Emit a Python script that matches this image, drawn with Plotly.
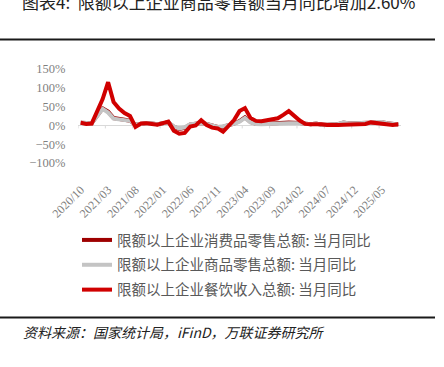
import plotly.graph_objects as go

months = ["2020/10","2020/11","2020/12",
          "2021/01","2021/02","2021/03","2021/04","2021/05","2021/06","2021/07","2021/08","2021/09","2021/10","2021/11","2021/12",
          "2022/01","2022/02","2022/03","2022/04","2022/05","2022/06","2022/07","2022/08","2022/09","2022/10","2022/11","2022/12",
          "2023/01","2023/02","2023/03","2023/04","2023/05","2023/06","2023/07","2023/08","2023/09","2023/10","2023/11","2023/12",
          "2024/01","2024/02","2024/03","2024/04","2024/05","2024/06","2024/07","2024/08","2024/09","2024/10","2024/11","2024/12",
          "2025/01","2025/02","2025/03","2025/04","2025/05","2025/06","2025/07","2025/08"]

consumer_total = [7, 6, 6,
                  None, 45.5, 37, 19.5, 16, 15, 12.5, 2, 4, 6, 5, 3,
                  None, 8, -4, -9.5, -6.5, 2.5, 4, 6.5, 4, 0.5, -4, -3.5,
                  None, 4.5, 11.5, 21.5, 9, 4.5, 3.5, 4.5, 5.5, 7, 8, 7.5,
                  None, 6.5, 4, 3, 5, 2, 2, 3, 3.5, 7.5, 5, 5.5,
                  None, 6, 7, 9, 8.5, 5.5, 4, 2.6]

commodity = [7, 6, 6,
             None, 44, 34, 18, 15, 14, 12, 2, 4, 6, 5, 3,
             None, 8, -3, -8, -5, 3, 4, 6, 4, 1, -4, -2,
             None, 4, 10, 20, 8, 4, 3, 4, 5, 6, 7, 6,
             None, 6, 4, 3, 5, 2, 2, 3, 4, 8, 5, 6,
             None, 6, 7, 9, 9, 6, 4, 2.6]

catering = [7, 4, 5,
            None, 70, 115, 62, 45, 33, 25, -4, 5, 6, 4, 2,
            None, 10, -14, -22, -20, -3, 0, 14, 1, -6, -8, -17,
            None, 14, 38, 46, 20, 12, 11, 13, 15, 19, 28, 38,
            None, 13, 4, 3, 4, 3, 1, 0, 1, 2, 3, 3,
            None, 4, 8, 6, 5, 1, 1, 3]

series_names = ["限额以上企业消费品零售总额: 当月同比",
                "限额以上企业商品零售总额: 当月同比",
                "限额以上企业餐饮收入总额: 当月同比"]
series_colors = ["#9E0000", "#C4C4C4", "#D00000"]

y_ticks = [-100, -50, 0, 50, 100, 150]
y_ticktext = ["\u2212100%", "\u221250%", "0%", "50%", "100%", "150%"]

x_tickvals = months[::5]

cjk = "Noto Sans CJK SC"
serif = "Liberation Serif"

n = len(months)
W, H = 444, 367
L, R, T, B = 78, 43, 69, 204
pw = W - L - R
ph = H - T - B

fig = go.Figure()
for name, vals, col, grp in zip(series_names, [consumer_total, commodity, catering], series_colors, ["a", "b", "c"]):
    fig.add_trace(go.Scatter(x=months, y=vals, mode="lines", name=name,
                             line=dict(color=col, width=4), connectgaps=True,
                             legendgroup=grp))

fig.update_layout(
    width=W, height=H,
    margin=dict(l=L, r=R, t=T, b=B, autoexpand=False),
    paper_bgcolor="white", plot_bgcolor="white",
    showlegend=True,
    legend=dict(xref="container", yref="container", x=77 / W, y=1 - 224 / H,
                xanchor="left", yanchor="top", tracegroupgap=3,
                traceorder="grouped",
                font=dict(family=cjk, size=14.5, color="#595959"),
                bgcolor="rgba(0,0,0,0)"),
    xaxis=dict(type="category", range=[-0.5, n - 0.5], tickvals=x_tickvals,
               tickangle=-45, ticks="outside", ticklen=14, tickcolor="rgba(0,0,0,0)",
               tickfont=dict(family=serif, size=12, color="#7F7F7F"),
               showgrid=False, zeroline=False, showline=False),
    yaxis=dict(range=[-100, 150], tickvals=y_ticks, ticktext=y_ticktext,
               tickfont=dict(family=serif, size=12.5, color="#7F7F7F"),
               showgrid=False, zeroline=True, zerolinecolor="#D9D9D9", zerolinewidth=1,
               showline=False, ticks="outside", ticklen=9, tickcolor="rgba(0,0,0,0)"),
)

def px_x(p):
    return (p - L) / pw

def px_y(p):
    return (H - B - p) / ph

# small tick marks on the zero line at category boundaries
for k in range(0, n, 5):
    fig.add_shape(type="line", xref="x", yref="y", x0=k - 0.5, x1=k - 0.5,
                  y0=0, y1=-8, line=dict(color="#D9D9D9", width=1), layer="below")

fig.add_shape(type="line", xref="paper", yref="paper", x0=px_x(0), x1=px_x(435),
              y0=px_y(39.5), y1=px_y(39.5), line=dict(color="#1a1a1a", width=2))
fig.add_shape(type="line", xref="paper", yref="paper", x0=px_x(0), x1=px_x(435),
              y0=px_y(317.5), y1=px_y(317.5), line=dict(color="#1a1a1a", width=2))

fig.add_annotation(xref="paper", yref="paper", x=px_x(20), y=px_y(2), xanchor="left", yanchor="middle",
                   text="图表4:  限额以上企业商品零售额当月同比增加2.60%", showarrow=False,
                   font=dict(family=cjk, size=17, color="#222222"))
fig.add_annotation(xref="paper", yref="paper", x=px_x(21), y=px_y(332), xanchor="left", yanchor="middle",
                   text="<i>资料来源：国家统计局，iFinD，万联证券研究所</i>", showarrow=False,
                   font=dict(family=cjk, size=14, color="#222222"))

fig.write_html("out.html", config={"displayModeBar": False},
               post_script="document.body.style.margin='0';")
